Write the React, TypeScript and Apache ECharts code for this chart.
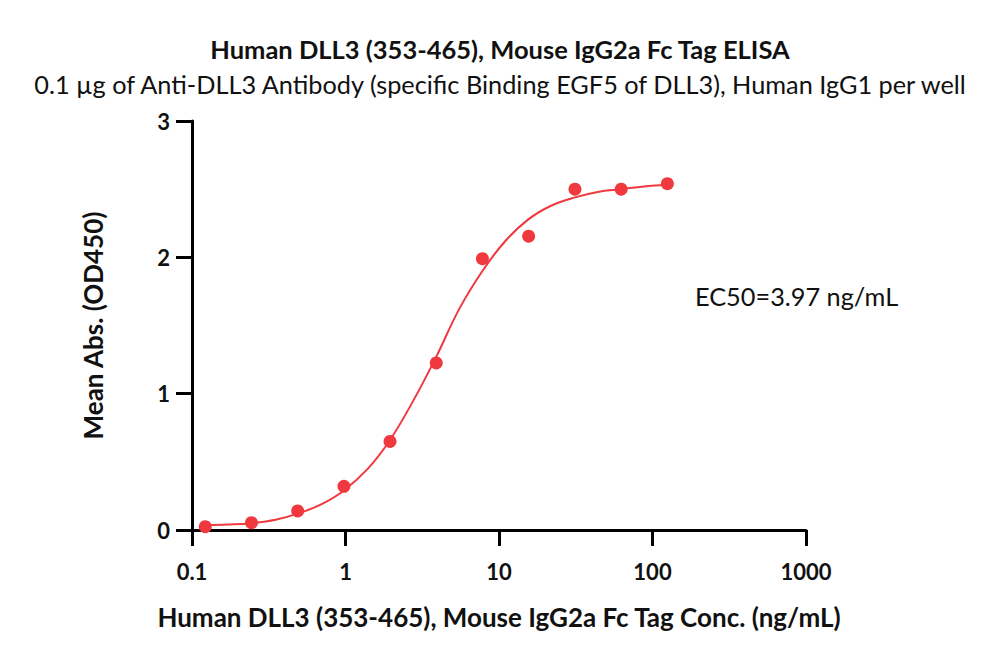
import React, { useEffect, useRef } from "react";
import * as echarts from "echarts";

const concentrations = [0.122, 0.244, 0.488, 0.977, 1.95, 3.9, 7.8, 15.6, 31.25, 62.5, 125];
const meanAbs = [0.024, 0.054, 0.14, 0.32, 0.65, 1.225, 1.99, 2.155, 2.5, 2.5, 2.54];

const curveX = [0.122, 0.17, 0.244, 0.35, 0.488, 0.7, 0.977, 1.4, 1.95, 2.8, 3.9, 5.5, 7.8, 11, 15.6, 22, 31.25, 44, 62.5, 88, 125];
const curveY = [0.035, 0.04, 0.05, 0.075, 0.12, 0.19, 0.29, 0.45, 0.66, 0.96, 1.27, 1.62, 1.9, 2.12, 2.28, 2.38, 2.44, 2.48, 2.5, 2.52, 2.53];

const yTicks = [0, 1, 2, 3];

const titleText = "Human DLL3 (353-465), Mouse IgG2a Fc Tag ELISA";
const subtitleText = "0.1 µg of Anti-DLL3 Antibody (specific Binding EGF5 of DLL3), Human IgG1 per well";
const xName = "Human DLL3 (353-465), Mouse IgG2a Fc Tag Conc. (ng/mL)";
const yName = "Mean Abs. (OD450)";
const ec50Text = "EC50=3.97 ng/mL";

const RED = "#f0393f";
const FONT = "Lato";

export default function App() {
  const ref = useRef<HTMLDivElement>(null);
  useEffect(() => {
    if (!ref.current) return;
    const chart = echarts.init(ref.current, undefined, { renderer: "svg" });
    chart.setOption({
      animation: false,
      backgroundColor: "#ffffff",
      textStyle: { fontFamily: FONT },
      title: [
        {
          text: titleText,
          left: "center",
          top: 31,
          textStyle: { fontFamily: FONT, fontSize: 25.5, fontWeight: "bold", color: "#111" },
        },
        {
          text: subtitleText,
          left: "center",
          top: 66,
          textStyle: { fontFamily: FONT, fontSize: 25.3, fontWeight: "normal", color: "#111" },
        },
      ],
      grid: { left: 192, right: 194, top: 121, bottom: 139, containLabel: false },
      xAxis: {
        type: "log",
        logBase: 10,
        min: 0.1,
        max: 1000,
        name: xName,
        nameLocation: "middle",
        nameGap: 74,
        nameTextStyle: { fontFamily: FONT, fontSize: 26, fontWeight: "bold", color: "#111" },
        axisLine: { show: true, lineStyle: { color: "#000", width: 3 } },
        axisTick: { show: true, length: 16, lineStyle: { color: "#000", width: 3 } },
        minorTick: { show: false },
        splitLine: { show: false },
        axisLabel: {
          margin: 30,
          fontFamily: FONT,
          fontSize: 22,
          fontWeight: "bold",
          color: "#111",
          formatter: (v: number) => String(v),
        },
      },
      yAxis: {
        type: "value",
        min: 0,
        max: 3,
        interval: 1,
        name: yName,
        nameLocation: "middle",
        nameGap: 86,
        nameRotate: 90,
        nameTextStyle: { fontFamily: FONT, fontSize: 26, fontWeight: "bold", color: "#111" },
        axisLine: { show: true, lineStyle: { color: "#000", width: 3 } },
        axisTick: { show: true, length: 16, lineStyle: { color: "#000", width: 3 } },
        splitLine: { show: false },
        axisLabel: {
          margin: 22,
          fontFamily: FONT,
          fontSize: 22,
          fontWeight: "bold",
          color: "#111",
          formatter: (v: number) => (yTicks.includes(v) ? String(v) : ""),
        },
      },
      series: [
        {
          type: "line",
          name: "fit",
          data: curveX.map((x, i) => [x, curveY[i]]),
          smooth: 0.4,
          showSymbol: false,
          symbol: "none",
          lineStyle: { color: RED, width: 2 },
          z: 2,
        },
        {
          type: "scatter",
          name: "data",
          data: concentrations.map((x, i) => [x, meanAbs[i]]),
          symbol: "circle",
          symbolSize: 13,
          itemStyle: { color: RED, opacity: 1 },
          z: 3,
        },
      ],
      graphic: [
        {
          type: "text",
          left: 695,
          top: 283,
          style: { text: ec50Text, fontFamily: FONT, fontSize: 25.3, fill: "#111" },
        },
      ],
    });
    return () => chart.dispose();
  }, []);
  return <div ref={ref} style={{ width: 1000, height: 669, margin: -8 }} />;
}
